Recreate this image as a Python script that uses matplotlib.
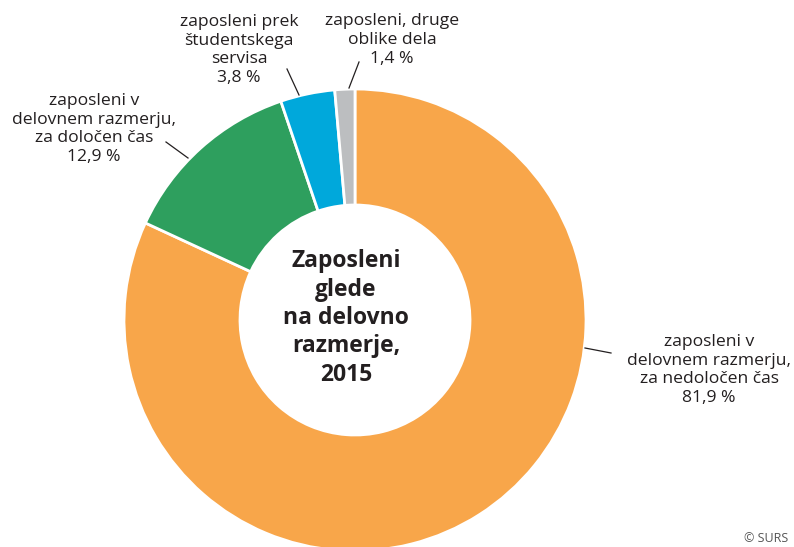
import matplotlib.pyplot as plt

plt.rcParams['font.family'] = ['Open Sans', 'DejaVu Sans']

categories = [
    'zaposleni v\ndelovnem razmerju,\nza nedoločen čas',
    'zaposleni v\ndelovnem razmerju,\nza določen čas',
    'zaposleni prek\nštudentskega\nservisa',
    'zaposleni, druge\noblike dela',
]
shares = [81.9, 12.9, 3.8, 1.4]
colors = ['#F8A64A', '#2E9F5E', '#00A8DB', '#BCBEC0']
title = 'Zaposleni\nglede\nna delovno\nrazmerje,\n2015'

W, H = 794, 547
fig = plt.figure(figsize=(W / 100, H / 100), dpi=100)
ax = fig.add_axes([0, 0, 1, 1])

# pixel-like coordinates, y measured from bottom
cx, cy, r = 355, H - 320, 231
ax.pie(shares, colors=colors, startangle=90, counterclock=False,
       center=(cx, cy), radius=r,
       wedgeprops=dict(width=r - 115, edgecolor='white', linewidth=2))
ax.set_xlim(0, W)
ax.set_ylim(0, H)
ax.set_aspect('equal')
ax.axis('off')

txt = '#231F20'
labels = [f'{c}\n{str(v).replace(".", ",")} %' for c, v in zip(categories, shares)]
# label anchor (center of text block) and leader line end points
label_pos = [(709, 370), (94, 129), (239, 50), (392, 40)]
leaders = [((585, 348), (611, 353)), ((166, 142), (188, 158)),
           ((287, 69), (299, 95)), ((359, 62), (349, 88))]

for lab, (lx, ly), (p0, p1) in zip(labels, label_pos, leaders):
    ax.text(lx, H - ly, lab, ha='center', va='center', fontsize=12.6,
            color=txt, linespacing=1.22)
    ax.plot([p0[0], p1[0]], [H - p0[1], H - p1[1]], color=txt, lw=0.9)

ax.text(346, H - 318, title, ha='center', va='center', fontsize=16.5,
        fontweight='bold', color=txt, linespacing=1.25)
ax.text(788, 2, '© SURS', ha='right', va='bottom', fontsize=9, color='#555555')

fig.savefig('out.png', dpi=100)
